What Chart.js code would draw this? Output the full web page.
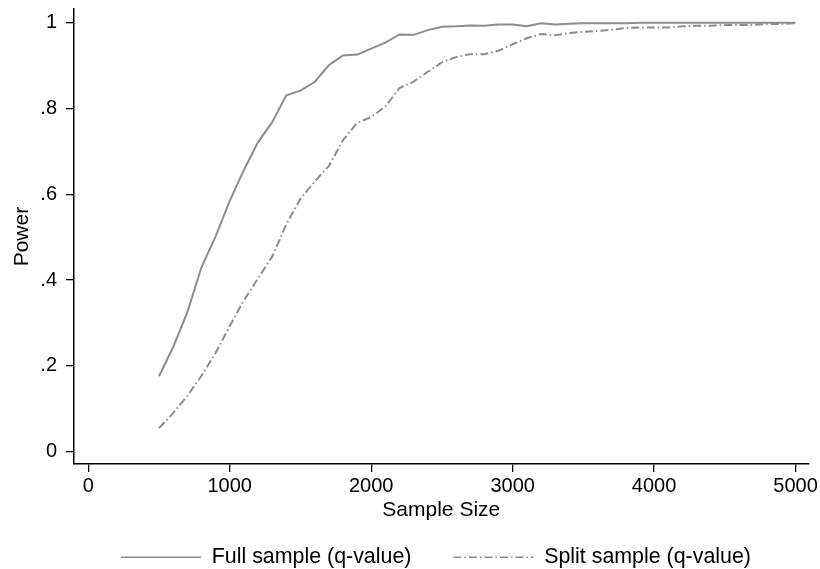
<!DOCTYPE html>
<html>
<head>
<meta charset="utf-8">
<script src="https://cdn.jsdelivr.net/npm/chart.js@4.4.1/dist/chart.umd.min.js"></script>
<style>
  html, body { margin: 0; padding: 0; background: #fff; }
  #wrap { width: 820px; height: 569px; position: relative; }
</style>
</head>
<body>
<div id="wrap"><canvas id="c" width="820" height="569"></canvas></div>
<script>
const sampleSizes = [500, 600, 700, 800, 900, 1000, 1100, 1200, 1300, 1400,
  1500, 1600, 1700, 1800, 1900, 2000, 2100, 2200, 2300, 2400,
  2500, 2600, 2700, 2800, 2900, 3000, 3100, 3200, 3300, 3400,
  3500, 3600, 3700, 3800, 3900, 4000, 4100, 4200, 4300, 4400,
  4500, 4600, 4700, 4800, 4900, 5000];

const fullSample = [0.176, 0.244, 0.325, 0.430, 0.502, 0.585, 0.657, 0.722, 0.768, 0.831,
  0.842, 0.862, 0.901, 0.924, 0.926, 0.940, 0.954, 0.973, 0.972, 0.983,
  0.991, 0.992, 0.994, 0.993, 0.996, 0.996, 0.992, 0.999, 0.996, 0.998,
  0.999, 0.999, 0.999, 0.999, 1.000, 1.000, 1.000, 1.000, 1.000, 1.000,
  1.000, 1.000, 1.000, 1.000, 1.000, 1.000];

const splitSample = [0.055, 0.090, 0.130, 0.177, 0.230, 0.293, 0.353, 0.404, 0.455, 0.530,
  0.590, 0.630, 0.666, 0.726, 0.767, 0.780, 0.805, 0.848, 0.863, 0.886,
  0.908, 0.920, 0.927, 0.927, 0.935, 0.950, 0.964, 0.974, 0.971, 0.976,
  0.979, 0.981, 0.984, 0.988, 0.989, 0.989, 0.989, 0.992, 0.993, 0.993,
  0.995, 0.995, 0.995, 0.997, 0.997, 0.999];

const seriesNames = ["Full sample (q-value)", "Split sample (q-value)"];
const xTickValues = [0, 1000, 2000, 3000, 4000, 5000];
const yTickValues = [0, 0.2, 0.4, 0.6, 0.8, 1];
const yTickLabels = ["0", ".2", ".4", ".6", ".8", "1"];
const xTitle = "Sample Size";
const yTitle = "Power";

const FONT = "'Liberation Sans', Arial, Helvetica, sans-serif";
const lineColor = "#8c8c8c";

function toPoints(xs, ys) { return xs.map((x, i) => ({ x: x, y: ys[i] })); }

const legendShift = {
  id: 'legendShift',
  afterLayout(chart) {
    if (chart.legend) { chart.legend.left += 31; chart.legend.right += 31; }
  }
};

new Chart(document.getElementById('c'), {
  type: 'line',
  data: {
    datasets: [
      {
        label: seriesNames[0],
        data: toPoints(sampleSizes, fullSample),
        borderColor: lineColor,
        backgroundColor: lineColor,
        borderWidth: 2,
        pointRadius: 0,
        tension: 0,
        fill: false
      },
      {
        label: seriesNames[1],
        data: toPoints(sampleSizes, splitSample),
        borderColor: lineColor,
        backgroundColor: lineColor,
        borderWidth: 2,
        borderDash: [8, 3, 1.5, 3],
        pointRadius: 0,
        tension: 0,
        fill: false
      }
    ]
  },
  plugins: [legendShift],
  options: {
    responsive: false,
    animation: false,
    devicePixelRatio: 1,
    layout: { padding: { left: 0, right: 10, top: 0, bottom: 0 } },
    plugins: {
      tooltip: { enabled: false },
      legend: {
        display: true,
        position: 'bottom',
        align: 'center',
        maxHeight: 64.5,
        labels: {
          usePointStyle: true,
          pointStyle: 'line',
          pointStyleWidth: 80,
          boxHeight: 21.4,
          padding: 42,
          color: '#000',
          font: { family: FONT, size: 21.4 },
          generateLabels(chart) {
            const items = Chart.defaults.plugins.legend.labels.generateLabels(chart);
            items.forEach((it) => {
              const ds = chart.data.datasets[it.datasetIndex];
              it.lineDash = ds.borderDash || [];
              it.lineWidth = 1.6;
              it.strokeStyle = ds.borderColor;
              it.pointStyle = 'line';
            });
            return items;
          }
        }
      }
    },
    scales: {
      x: {
        type: 'linear',
        min: -101,
        max: 5092,
        afterFit(scale) { scale.height = 40.5; },
        afterBuildTicks(scale) { scale.ticks = xTickValues.map(v => ({ value: v })); },
        ticks: {
          autoSkip: false,
          maxRotation: 0,
          padding: 2,
          color: '#000',
          font: { family: FONT, size: 20, lineHeight: 1.2 },
          callback: (v) => String(v)
        },
        grid: {
          display: true,
          drawOnChartArea: false,
          drawTicks: true,
          tickLength: 8,
          color: '#000',
          lineWidth: 1.3
        },
        border: { display: true, color: '#000', width: 1.5 },
        title: {
          display: true,
          text: xTitle,
          color: '#000',
          font: { family: FONT, size: 21, lineHeight: 1.2 },
          padding: { top: 0, bottom: -18.6 }
        }
      },
      y: {
        type: 'linear',
        min: -0.0287,
        max: 1.032,
        afterFit(scale) { scale.width = 74; },
        afterBuildTicks(scale) { scale.ticks = yTickValues.map(v => ({ value: v })); },
        ticks: {
          autoSkip: false,
          padding: 9,
          color: '#000',
          font: { family: FONT, size: 20, lineHeight: 0.01 },
          callback: (v) => {
            const i = yTickValues.findIndex(t => Math.abs(t - v) < 1e-9);
            return i >= 0 ? yTickLabels[i] : '';
          }
        },
        grid: {
          display: true,
          drawOnChartArea: false,
          drawTicks: true,
          tickLength: 8,
          color: '#000',
          lineWidth: 1.3
        },
        border: { display: true, color: '#000', width: 1.5 },
        title: {
          display: true,
          text: yTitle,
          color: '#000',
          font: { family: FONT, size: 21, lineHeight: 1.2 },
          padding: { top: 9.4, bottom: 0 }
        }
      }
    }
  }
});
</script>
</body>
</html>
